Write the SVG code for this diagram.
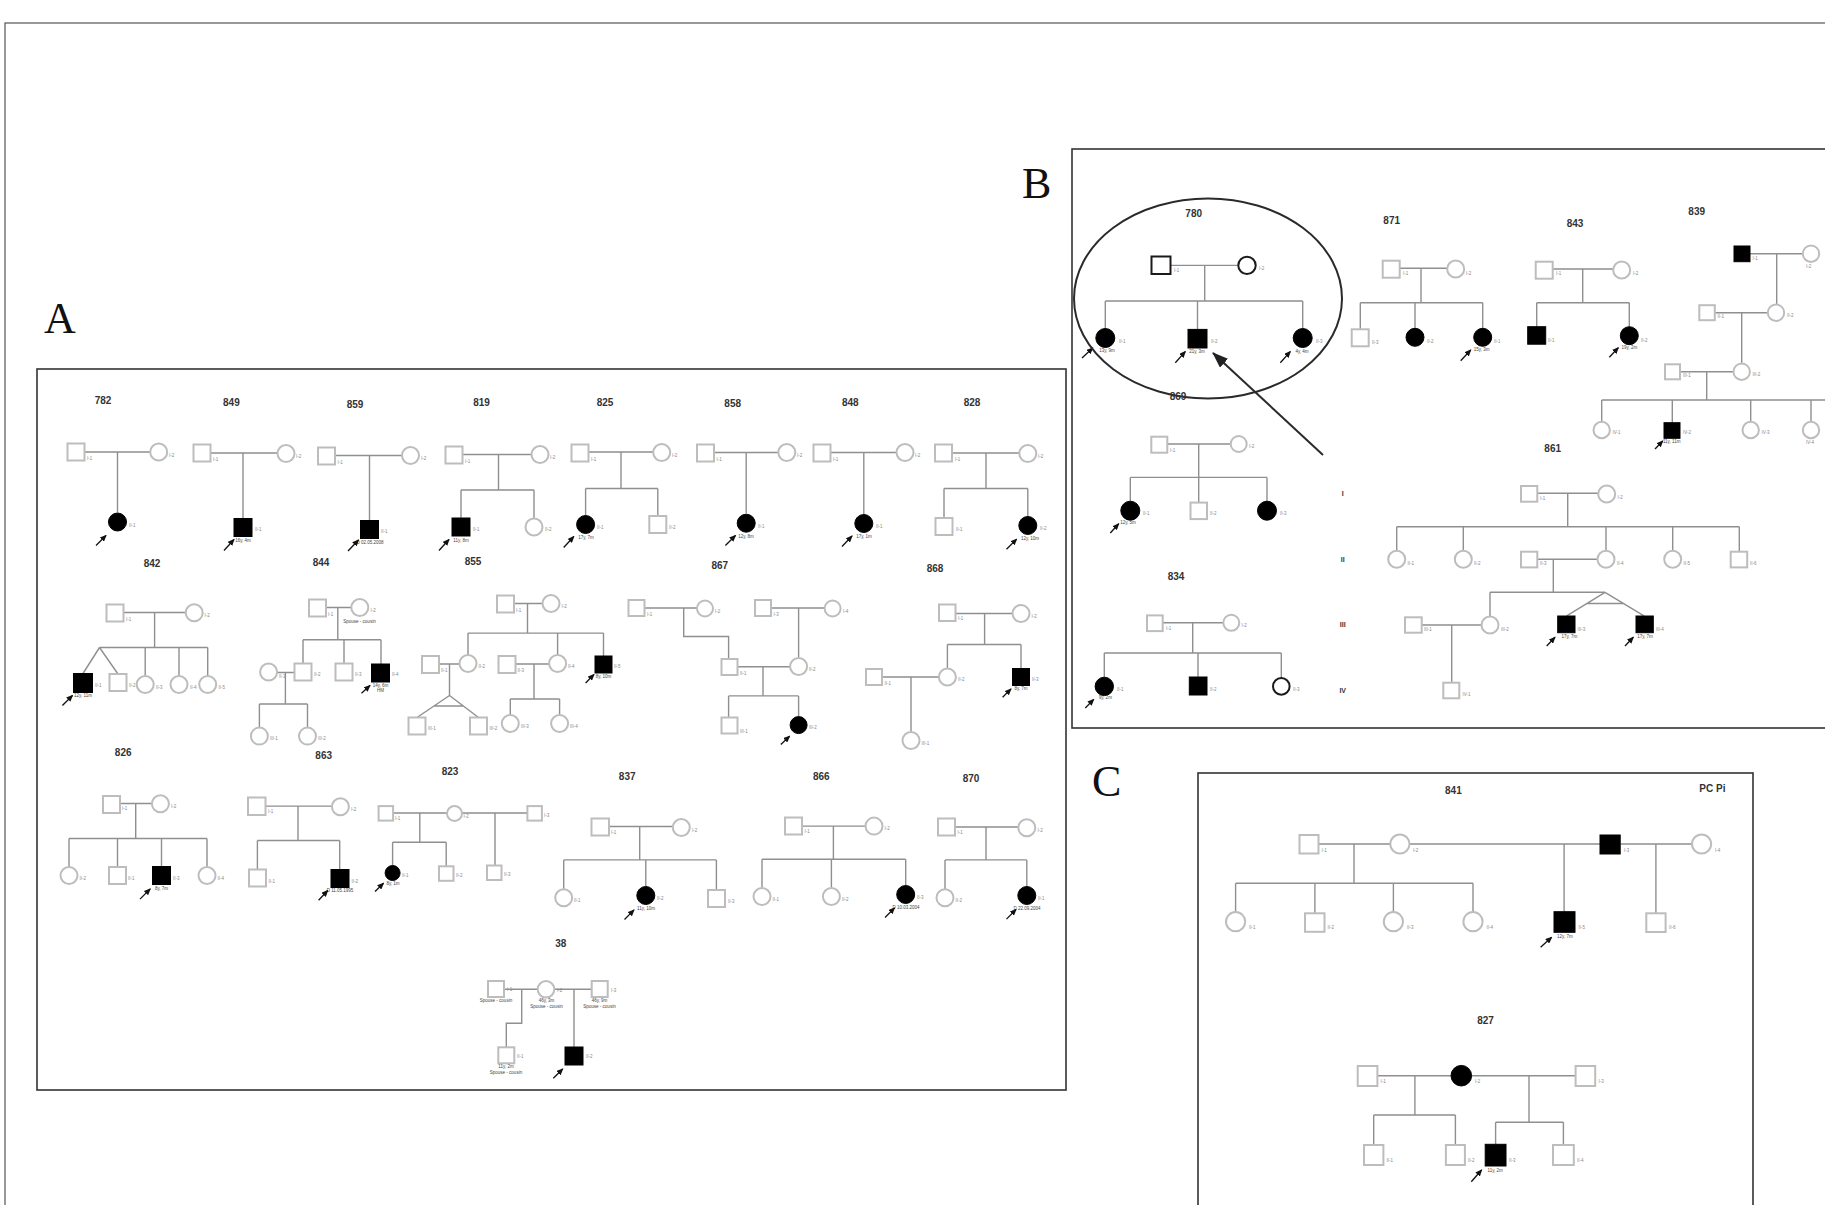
<svg xmlns="http://www.w3.org/2000/svg" width="1825" height="1205" viewBox="0 0 1825 1205">
<defs>
<style>
.u{fill:#fff;stroke:#bdbdbd;stroke-width:2}
.a{fill:#000;stroke:#000;stroke-width:1}
.k{fill:#fff;stroke:#1a1a1a;stroke-width:2}
.ln{fill:none;stroke:#8f8f8f;stroke-width:1.4}
.pb{stroke:#111;stroke-width:1.3;marker-end:url(#ah)}
.fl{font-family:"Liberation Sans",Arial,sans-serif;font-weight:bold;font-size:10px;fill:#333;text-anchor:middle}
.id{font-family:"Liberation Sans",Arial,sans-serif;font-size:4.5px;fill:#888}
.sb{font-family:"Liberation Sans",Arial,sans-serif;font-size:4.5px;fill:#444;text-anchor:middle}
.pl{font-family:"Liberation Serif","Times New Roman",serif;font-size:44px;fill:#111}
.fr{fill:none;stroke:#333;stroke-width:1.6}
.gen{font-family:"Liberation Sans",Arial,sans-serif;font-weight:bold;font-size:7px;fill:#333;text-anchor:middle}
</style>
<marker id="ah" markerUnits="userSpaceOnUse" markerWidth="7" markerHeight="6" refX="6" refY="3" orient="auto"><path d="M0,0 L7,3 L0,6 z" fill="#111"/></marker>
<marker id="bigah" markerUnits="userSpaceOnUse" markerWidth="16" markerHeight="12" refX="15" refY="6" orient="auto"><path d="M0,0 L16,6 L0,12 z" fill="#222"/></marker>
</defs>
<rect width="1825" height="1205" fill="#fff"/>
<rect x="5" y="23" width="1830" height="1200" fill="none" stroke="#555" stroke-width="1.2"/>

<!-- panel frames and letters -->
<rect class="fr" x="37" y="369" width="1029" height="721"/>
<rect class="fr" x="1072" y="149" width="770" height="579"/>
<rect class="fr" x="1198" y="773" width="555" height="450"/>
<text class="pl" x="44" y="333">A</text>
<text class="pl" x="1022" y="198">B</text>
<text class="pl" x="1092" y="796">C</text>

<!-- ===== Panel A ===== -->
<g id="panelA" transform="translate(0,-1.5)">
<g id="fam782">
<text class="fl" x="103" y="405">782</text>
<g class="connectors"><path class="ln" d="M84.5 453.5H150M117.5 453.5V514"/></g>
<g id="f782-I1"><rect class="u" x="67.5" y="445" width="17" height="17"/><text class="id" x="87" y="461">I-1</text></g>
<g id="f782-I2"><circle class="u" cx="158.7" cy="453.5" r="8.5"/><text class="id" x="169" y="458">I-2</text></g>
<g id="f782-II1"><circle class="a" cx="117.5" cy="523.5" r="9"/><text class="id" x="129" y="528">II-1</text><line class="pb" x1="96" y1="547" x2="106" y2="537"/></g>
</g>

<g id="fam849">
<text class="fl" x="231.4" y="407">849</text>
<g class="connectors"><path class="ln" d="M210.5 454.5H277.5M243 454.5V520"/></g>
<g id="f849-I1"><rect class="u" x="193.5" y="446" width="17" height="17"/><text class="id" x="213" y="462">I-1</text></g>
<g id="f849-I2"><circle class="u" cx="286" cy="455" r="8.5"/><text class="id" x="296" y="459">I-2</text></g>
<g id="f849-II1"><rect class="a" x="234" y="520" width="18" height="18"/><text class="id" x="255" y="532">II-1</text><text class="sb" x="243" y="543.5">16y, 4m</text><line class="pb" x1="224" y1="552" x2="234" y2="541"/></g>
</g>

<g id="fam859">
<text class="fl" x="355" y="409">859</text>
<g class="connectors"><path class="ln" d="M335 457H402M369.5 457V522"/></g>
<g id="f859-I1"><rect class="u" x="318" y="449" width="17" height="17"/><text class="id" x="337.5" y="465">I-1</text></g>
<g id="f859-I2"><circle class="u" cx="410.5" cy="457" r="8.5"/><text class="id" x="421" y="461">I-2</text></g>
<g id="f859-II1"><rect class="a" x="360.5" y="522" width="18" height="18"/><text class="id" x="381" y="534">II-1</text><text class="sb" x="370" y="545">D 02.05.2008</text><line class="pb" x1="348" y1="552.5" x2="358.5" y2="541.5"/></g>
</g>

<g id="fam819">
<text class="fl" x="481.6" y="407">819</text>
<g class="connectors"><path class="ln" d="M462.5 456H531.5M498.5 456V491.5M461 491.5H534M461 491.5V519.5M534 491.5V520"/></g>
<g id="f819-I1"><rect class="u" x="445.5" y="448" width="17" height="17"/><text class="id" x="465" y="464">I-1</text></g>
<g id="f819-I2"><circle class="u" cx="540" cy="456" r="8.5"/><text class="id" x="550" y="460">I-2</text></g>
<g id="f819-II1"><rect class="a" x="452" y="519.5" width="18" height="18"/><text class="id" x="473" y="532">II-1</text><text class="sb" x="461" y="543">11y, 8m</text><line class="pb" x1="439" y1="552" x2="449" y2="541"/></g>
<g id="f819-II2"><circle class="u" cx="534" cy="528.5" r="8.5"/><text class="id" x="545" y="532.5">II-2</text></g>
</g>

<g id="fam825">
<text class="fl" x="605" y="407">825</text>
<g class="connectors"><path class="ln" d="M588.5 453.5H653M621 453.5V490M585.6 490H657.8M585.6 490V517M657.8 490V517.5"/></g>
<g id="f825-I1"><rect class="u" x="571.5" y="446" width="17" height="17"/><text class="id" x="591" y="462">I-1</text></g>
<g id="f825-I2"><circle class="u" cx="661.7" cy="454" r="8.5"/><text class="id" x="672" y="458">I-2</text></g>
<g id="f825-II1"><circle class="a" cx="585.6" cy="526" r="9"/><text class="id" x="597" y="530">II-1</text><text class="sb" x="586" y="540">17y, 7m</text><line class="pb" x1="563.7" y1="549" x2="573.8" y2="538"/></g>
<g id="f825-II2"><rect class="u" x="649.3" y="517.5" width="17" height="17"/><text class="id" x="669" y="530">II-2</text></g>
</g>

<g id="fam858">
<text class="fl" x="732.7" y="408">858</text>
<g class="connectors"><path class="ln" d="M714 454H778.3M746.2 454V515"/></g>
<g id="f858-I1"><rect class="u" x="697" y="446" width="17" height="17"/><text class="id" x="716.5" y="462">I-1</text></g>
<g id="f858-I2"><circle class="u" cx="786.8" cy="454" r="8.5"/><text class="id" x="797" y="458">I-2</text></g>
<g id="f858-II1"><circle class="a" cx="746.2" cy="524.7" r="9"/><text class="id" x="758" y="529">II-1</text><text class="sb" x="746" y="539">12y, 8m</text><line class="pb" x1="725.4" y1="547" x2="735.5" y2="537"/></g>
</g>

<g id="fam848">
<text class="fl" x="850.3" y="407">848</text>
<g class="connectors"><path class="ln" d="M830.5 454H896.5M863.8 454V516"/></g>
<g id="f848-I1"><rect class="u" x="813.5" y="446" width="17" height="17"/><text class="id" x="833" y="462">I-1</text></g>
<g id="f848-I2"><circle class="u" cx="905" cy="454" r="8.5"/><text class="id" x="915" y="458">I-2</text></g>
<g id="f848-II1"><circle class="a" cx="863.8" cy="525" r="9"/><text class="id" x="876" y="529">II-1</text><text class="sb" x="864" y="539">17y, 1m</text><line class="pb" x1="842" y1="548" x2="852" y2="537.5"/></g>
</g>

<g id="fam828">
<text class="fl" x="972" y="407">828</text>
<g class="connectors"><path class="ln" d="M952 454.5H1019.3M986 454.5V490M944 490H1027.8M944 490V519.5M1027.8 490V518"/></g>
<g id="f828-I1"><rect class="u" x="935" y="446" width="17" height="17"/><text class="id" x="955" y="462">I-1</text></g>
<g id="f828-I2"><circle class="u" cx="1027.8" cy="455" r="8.5"/><text class="id" x="1038" y="459">I-2</text></g>
<g id="f828-II1"><rect class="u" x="935.5" y="519.5" width="17" height="17"/><text class="id" x="956" y="532">II-1</text></g>
<g id="f828-II2"><circle class="a" cx="1027.8" cy="527" r="9"/><text class="id" x="1040" y="531">II-2</text><text class="sb" x="1030" y="541.5">12y, 10m</text><line class="pb" x1="1006.5" y1="550.7" x2="1016.6" y2="540.6"/></g>
</g>

<g id="fam842">
<text class="fl" x="152" y="568">842</text>
<g class="connectors"><path class="ln" d="M123.5 614H185.7M154.6 614V649M99.5 649H207.7M99.5 649L83 675M99.5 649L118 675.5M145.2 649V677.5M179 649V677.5M207.7 649V677.5"/></g>
<g id="f842-I1"><rect class="u" x="106.5" y="606" width="17" height="17"/><text class="id" x="126" y="622">I-1</text></g>
<g id="f842-I2"><circle class="u" cx="194.2" cy="614.2" r="8.5"/><text class="id" x="204.5" y="618">I-2</text></g>
<g id="f842-II1"><rect class="a" x="73.5" y="675" width="19" height="19"/><text class="id" x="95" y="688">II-1</text><text class="sb" x="83" y="698">12y, 11m</text><line class="pb" x1="62.4" y1="707" x2="72.5" y2="697"/></g>
<g id="f842-II2"><rect class="u" x="109.5" y="675.5" width="17" height="17"/><text class="id" x="129" y="688">II-2</text></g>
<g id="f842-II3"><circle class="u" cx="145.2" cy="686" r="8.5"/><text class="id" x="156" y="690">II-3</text></g>
<g id="f842-II4"><circle class="u" cx="179" cy="686" r="8.5"/><text class="id" x="190" y="690">II-4</text></g>
<g id="f842-II5"><circle class="u" cx="207.7" cy="686" r="8.5"/><text class="id" x="218.5" y="690">II-5</text></g>
</g>

<g id="fam844">
<text class="fl" x="321" y="567">844</text>
<g class="connectors"><path class="ln" d="M326 609H351.3M337.8 609V641.3M303 641.3H381M303 641.3V665M344 641.3V665M381 641.3V665.5M277.1 674H295.5M285.4 674V705.5M259.4 705.5H307.5M259.4 705.5V729M307.5 705.5V729"/></g>
<g id="f844-I1"><rect class="u" x="309" y="601" width="17" height="17"/><text class="id" x="328" y="617">I-1</text></g>
<g id="f844-I2"><circle class="u" cx="359.8" cy="609" r="8.5"/><text class="id" x="370.5" y="613">I-2</text><text class="sb" x="359.5" y="624">Spouse - cousin</text></g>
<g id="f844-II1"><circle class="u" cx="268.6" cy="673.5" r="8.5"/><text class="id" x="279" y="679">II-1</text></g>
<g id="f844-II2"><rect class="u" x="294.5" y="665" width="17" height="17"/><text class="id" x="314" y="677.5">II-2</text></g>
<g id="f844-II3"><rect class="u" x="335.5" y="665" width="17" height="17"/><text class="id" x="355" y="677.5">II-3</text></g>
<g id="f844-II4"><rect class="a" x="371.5" y="665.5" width="18" height="18"/><text class="id" x="392" y="677.5">II-4</text><text class="sb" x="380.5" y="688.5">14y, 6m</text><text class="sb" x="380.5" y="693.5">HM</text><line class="pb" x1="361.5" y1="694.7" x2="370" y2="687"/></g>
<g id="f844-III1"><circle class="u" cx="259.4" cy="737.6" r="8.5"/><text class="id" x="270" y="741.5">III-1</text></g>
<g id="f844-III2"><circle class="u" cx="307.5" cy="737.6" r="8.5"/><text class="id" x="318" y="741.5">III-2</text></g>
</g>

<g id="fam855">
<text class="fl" x="473" y="566">855</text>
<g class="connectors"><path class="ln" d="M514 605H542.5M527.5 605V634.6M468 634.6H603.5M468 634.6V656.5M557.6 634.6V656.5M603.5 634.6V657.5M439 665.5H459.5M449.5 665.5V697M449.5 697L417 719M449.5 697L478.5 719M434 707.5H463.3M515.5 665.5H549M534 665.5V700.5M510.3 700.5H559.6M510.3 700.5V716.5M559.6 700.5V716.5"/></g>
<g id="f855-I1"><rect class="u" x="497" y="597" width="17" height="17"/><text class="id" x="516" y="613">I-1</text></g>
<g id="f855-I2"><circle class="u" cx="551" cy="605" r="8.5"/><text class="id" x="561.5" y="609">I-2</text></g>
<g id="f855-II1"><rect class="u" x="422" y="657.5" width="17" height="17"/><text class="id" x="441" y="673">II-1</text></g>
<g id="f855-II2"><circle class="u" cx="468" cy="665" r="8.5"/><text class="id" x="478.5" y="669">II-2</text></g>
<g id="f855-II3"><rect class="u" x="498.5" y="657.5" width="17" height="17"/><text class="id" x="517.5" y="673">II-3</text></g>
<g id="f855-II4"><circle class="u" cx="557.6" cy="665" r="8.5"/><text class="id" x="568" y="669">II-4</text></g>
<g id="f855-II5"><rect class="a" x="595" y="657.5" width="17" height="17"/><text class="id" x="614" y="669">II-5</text><text class="sb" x="603.5" y="679">8y, 10m</text><line class="pb" x1="585.6" y1="684.5" x2="594" y2="676"/></g>
<g id="f855-III1"><rect class="u" x="408.5" y="719" width="17" height="17"/><text class="id" x="428" y="731">III-1</text></g>
<g id="f855-III2"><rect class="u" x="470" y="719" width="17" height="17"/><text class="id" x="489.5" y="731">III-2</text></g>
<g id="f855-III3"><circle class="u" cx="510.3" cy="725" r="8.5"/><text class="id" x="521" y="729">III-3</text></g>
<g id="f855-III4"><circle class="u" cx="559.6" cy="725" r="8.5"/><text class="id" x="570" y="729">III-4</text></g>
</g>

<g id="fam867">
<text class="fl" x="719.8" y="570">867</text>
<g class="connectors"><path class="ln" d="M644.5 609.5H697M683.7 609.5V638H728.6V660.5M771 609.5H824.6M798.6 609.5V659.5M737.5 668.3H790M763 668.3V697.4M728.6 697.4H798.6M728.6 697.4V719M798.6 697.4V718"/></g>
<g id="f867-I1"><rect class="u" x="628.5" y="601.5" width="16" height="16"/><text class="id" x="647" y="617">I-1</text></g>
<g id="f867-I2"><circle class="u" cx="705" cy="610" r="8"/><text class="id" x="715" y="614">I-2</text></g>
<g id="f867-I3"><rect class="u" x="755" y="601.5" width="16" height="16"/><text class="id" x="773.5" y="617">I-3</text></g>
<g id="f867-I4"><circle class="u" cx="832.6" cy="610" r="8"/><text class="id" x="843" y="614">I-4</text></g>
<g id="f867-II1"><rect class="u" x="721.5" y="660.5" width="16" height="16"/><text class="id" x="740" y="676">II-1</text></g>
<g id="f867-II2"><circle class="u" cx="798.6" cy="668" r="8.5"/><text class="id" x="809" y="672">II-2</text></g>
<g id="f867-III1"><rect class="u" x="721.5" y="719" width="16" height="16"/><text class="id" x="740" y="734">III-1</text></g>
<g id="f867-III2"><circle class="a" cx="798.6" cy="726.6" r="8.5"/><text class="id" x="809" y="730.5">III-2</text><line class="pb" x1="780.8" y1="746" x2="789.6" y2="737.7"/></g>
</g>

<g id="fam868">
<text class="fl" x="935" y="573">868</text>
<g class="connectors"><path class="ln" d="M955.5 615H1012.5M984.6 615V646M947.4 646H1021M947.4 646V670M1021 646V670M882 678.5H939M911 678.5V733.5"/></g>
<g id="f868-I1"><rect class="u" x="939" y="606" width="16.5" height="16.5"/><text class="id" x="958" y="621">I-1</text></g>
<g id="f868-I2"><circle class="u" cx="1021" cy="615" r="8.5"/><text class="id" x="1031.5" y="619">I-2</text></g>
<g id="f868-II1"><rect class="u" x="866" y="670.5" width="16" height="16"/><text class="id" x="884.5" y="686">II-1</text></g>
<g id="f868-II2"><circle class="u" cx="947.4" cy="678.5" r="8.5"/><text class="id" x="958" y="682.5">II-2</text></g>
<g id="f868-II3"><rect class="a" x="1012.5" y="670" width="17" height="17"/><text class="id" x="1032" y="682">II-3</text><text class="sb" x="1021" y="691.5">8y, 7m</text><line class="pb" x1="1002.6" y1="698.8" x2="1011" y2="690.4"/></g>
<g id="f868-III1"><circle class="u" cx="911" cy="742" r="8.5"/><text class="id" x="921.5" y="746">III-1</text></g>
</g>

<g id="fam826">
<text class="fl" x="123.2" y="757">826</text>
<g class="connectors"><path class="ln" d="M120 805H152M135.7 805V840M69 840H207M69 840V868.5M117.5 840V868.5M161.5 840V868M207 840V868.5"/></g>
<g id="f826-I1"><rect class="u" x="103" y="797.5" width="17" height="17"/><text class="id" x="122" y="811">I-1</text></g>
<g id="f826-I2"><circle class="u" cx="160.4" cy="805.3" r="8.5"/><text class="id" x="171" y="809.5">I-2</text></g>
<g id="f826-II2"><circle class="u" cx="69" cy="877" r="8.5"/><text class="id" x="79.5" y="881">II-2</text></g>
<g id="f826-II1"><rect class="u" x="109" y="868.5" width="17" height="17"/><text class="id" x="128" y="881">II-1</text></g>
<g id="f826-II3"><rect class="a" x="152.5" y="868" width="18" height="18"/><text class="id" x="173" y="881">II-3</text><text class="sb" x="161.5" y="891">8y, 7m</text><line class="pb" x1="140" y1="900.6" x2="150.2" y2="890.4"/></g>
<g id="f826-II4"><circle class="u" cx="207" cy="877" r="8.5"/><text class="id" x="217.5" y="881">II-4</text></g>
</g>

<g id="fam863">
<text class="fl" x="323.7" y="760.5">863</text>
<g class="connectors"><path class="ln" d="M265.5 807.6H332M298 807.6V842M257.4 842H339.7M257.4 842V871M339.7 842V871"/></g>
<g id="f863-I1"><rect class="u" x="248" y="799" width="17.5" height="17.5"/><text class="id" x="268" y="814">I-1</text></g>
<g id="f863-I2"><circle class="u" cx="340.4" cy="808.3" r="8.5"/><text class="id" x="351" y="812">I-2</text></g>
<g id="f863-II1"><rect class="u" x="249" y="871" width="17" height="17"/><text class="id" x="268.5" y="884">II-1</text></g>
<g id="f863-II2"><rect class="a" x="331" y="871" width="18" height="18"/><text class="id" x="351.5" y="884">II-2</text><text class="sb" x="340" y="893">D 11.05.1995</text><line class="pb" x1="318.6" y1="901.7" x2="327.7" y2="892"/></g>
</g>

<g id="fam823">
<text class="fl" x="450" y="776">823</text>
<g class="connectors"><path class="ln" d="M393 814.5H447M462 814.5H527.4M419.8 814.5V843.8M392.6 843.8H446.2M392.6 843.8V867M446.2 843.8V867.8M495 814.5V867"/></g>
<g id="f823-I1"><rect class="u" x="378.6" y="807.6" width="14.5" height="14.5"/><text class="id" x="395" y="821">I-1</text></g>
<g id="f823-I2"><circle class="u" cx="454.5" cy="815" r="7.5"/><text class="id" x="463.5" y="819">I-2</text></g>
<g id="f823-I3"><rect class="u" x="527.4" y="807.6" width="14.5" height="14.5"/><text class="id" x="544" y="818">I-3</text></g>
<g id="f823-II1"><circle class="a" cx="392.6" cy="874.5" r="7.5"/><text class="id" x="402" y="878">II-1</text><text class="sb" x="393" y="886">8y, 1m</text><line class="pb" x1="375" y1="893" x2="383.5" y2="884.7"/></g>
<g id="f823-II2"><rect class="u" x="439" y="867.8" width="14.5" height="14.5"/><text class="id" x="456" y="878">II-2</text></g>
<g id="f823-II3"><rect class="u" x="487" y="867" width="14.5" height="14.5"/><text class="id" x="504" y="877.5">II-3</text></g>
</g>

<g id="fam837">
<text class="fl" x="627.2" y="781.5">837</text>
<g class="connectors"><path class="ln" d="M609 828H672.8M639.7 828V861.4M563.7 861.4H716.4M563.7 861.4V890.5M645.8 861.4V888M716.4 861.4V891.5"/></g>
<g id="f837-I1"><rect class="u" x="591.5" y="820" width="17.5" height="17"/><text class="id" x="611" y="835">I-1</text></g>
<g id="f837-I2"><circle class="u" cx="681.3" cy="829" r="8.5"/><text class="id" x="692" y="833">I-2</text></g>
<g id="f837-II1"><circle class="u" cx="563.7" cy="899.3" r="8.5"/><text class="id" x="574" y="903">II-1</text></g>
<g id="f837-II2"><circle class="a" cx="645.8" cy="897" r="9"/><text class="id" x="657" y="901">II-2</text><text class="sb" x="646" y="911">11y, 10m</text><line class="pb" x1="624.5" y1="921" x2="634" y2="911.4"/></g>
<g id="f837-II3"><rect class="u" x="708" y="891.5" width="17" height="17"/><text class="id" x="728" y="904">II-3</text></g>
</g>

<g id="fam866">
<text class="fl" x="821.3" y="781.5">866</text>
<g class="connectors"><path class="ln" d="M802 827.6H865.5M833.4 827.6V860.7M762 860.7H905.7M762 860.7V889.5M831.4 860.7V889.5M905.7 860.7V887"/></g>
<g id="f866-I1"><rect class="u" x="785" y="819" width="17" height="17"/><text class="id" x="804.5" y="834">I-1</text></g>
<g id="f866-I2"><circle class="u" cx="874" cy="827.6" r="8.5"/><text class="id" x="884.5" y="831.5">I-2</text></g>
<g id="f866-II1"><circle class="u" cx="762" cy="898" r="8.5"/><text class="id" x="772.5" y="902">II-1</text></g>
<g id="f866-II2"><circle class="u" cx="831.4" cy="898" r="8.5"/><text class="id" x="842" y="902">II-2</text></g>
<g id="f866-II3"><circle class="a" cx="905.7" cy="896" r="9"/><text class="id" x="917" y="900">II-3</text><text class="sb" x="906" y="910">D 10.03.2004</text><line class="pb" x1="885" y1="919" x2="894.5" y2="909.5"/></g>
</g>

<g id="fam870">
<text class="fl" x="971" y="783">870</text>
<g class="connectors"><path class="ln" d="M955 828.5H1018.3M986 828.5V861.4M945 861.4H1026.8M945 861.4V890.8M1026.8 861.4V888"/></g>
<g id="f870-I1"><rect class="u" x="938" y="820" width="17" height="17"/><text class="id" x="957.5" y="835">I-1</text></g>
<g id="f870-I2"><circle class="u" cx="1026.8" cy="829.3" r="8.5"/><text class="id" x="1037.5" y="833">I-2</text></g>
<g id="f870-II2"><circle class="u" cx="945" cy="899.3" r="8.5"/><text class="id" x="955.5" y="903">II-2</text></g>
<g id="f870-II1"><circle class="a" cx="1026.8" cy="897" r="9"/><text class="id" x="1038" y="901">II-1</text><text class="sb" x="1027" y="911">D 22.09.2004</text><line class="pb" x1="1006.5" y1="920.6" x2="1016" y2="911"/></g>
</g>
</g>

<g id="fam38">
<text class="fl" x="560.7" y="946.5">38</text>
<g class="connectors"><path class="ln" d="M504 989.3H537.7M554.3 989.3H591.7M521.7 989.3V1023.3H506.3V1047.3M574 989.3V1047"/></g>
<g id="f38-I1"><rect class="u" x="488" y="981" width="16" height="16"/><text class="id" x="507" y="991">I-1</text><text class="sb" x="496" y="1002">Spouse - cousin</text></g>
<g id="f38-I2"><circle class="u" cx="546" cy="989.3" r="8.3"/><text class="id" x="557" y="992">I-2</text><text class="sb" x="546.5" y="1002">46y, 3m</text><text class="sb" x="546.5" y="1008">Spouse - cousin</text></g>
<g id="f38-I3"><rect class="u" x="591.7" y="981" width="16" height="16"/><text class="id" x="611" y="992">I-3</text><text class="sb" x="599.5" y="1002">46y, 9m</text><text class="sb" x="599.5" y="1008">Spouse - cousin</text></g>
<g id="f38-II1"><rect class="u" x="498.3" y="1047.3" width="16" height="16"/><text class="id" x="517" y="1058">II-1</text><text class="sb" x="506" y="1068">11y, 2m</text><text class="sb" x="506" y="1074">Spouse - cousin</text></g>
<g id="f38-II2"><rect class="a" x="565" y="1047" width="18" height="18"/><text class="id" x="586" y="1058">II-2</text><line class="pb" x1="553.3" y1="1078.3" x2="562.7" y2="1069"/></g>
</g>

<!-- ===== Panel B ===== -->
<g id="fam780">
<text class="fl" x="1193.7" y="216.5">780</text>
<g class="connectors"><path class="ln" d="M1170.5 265.4H1238.3M1204.7 265.4V301M1105.3 301H1302.7M1105.3 301V328.5M1197.5 301V329.4M1302.7 301V328.5"/></g>
<g id="f780-I1"><rect class="k" x="1151.5" y="256.5" width="19" height="17.5"/><text class="id" x="1174" y="272">I-1</text></g>
<g id="f780-I2"><circle class="k" cx="1247" cy="265.4" r="8.7"/><text class="id" x="1259" y="270">I-2</text></g>
<g id="f780-II1"><circle class="a" cx="1105.3" cy="338" r="9.5"/><text class="id" x="1119" y="343">II-1</text><text class="sb" x="1107" y="352">13y, 9m</text><line class="pb" x1="1082" y1="358" x2="1092.7" y2="348"/></g>
<g id="f780-II2"><rect class="a" x="1188" y="329.4" width="19" height="18.6"/><text class="id" x="1211" y="343">II-2</text><text class="sb" x="1197" y="352.5">21y, 3m</text><line class="pb" x1="1175.3" y1="362.7" x2="1185.3" y2="351.6"/></g>
<g id="f780-II3"><circle class="a" cx="1302.7" cy="338" r="9.5"/><text class="id" x="1316" y="343">II-3</text><text class="sb" x="1302" y="352.5">4y, 4m</text><line class="pb" x1="1280.3" y1="362.7" x2="1290.3" y2="351.6"/></g>
</g>
<ellipse cx="1208" cy="298.5" rx="134" ry="100" fill="none" stroke="#2a2a2a" stroke-width="2"/>
<line x1="1323" y1="455" x2="1213" y2="353" stroke="#2a2a2a" stroke-width="2" marker-end="url(#bigah)"/>

<g id="fam869">
<text class="fl" x="1178" y="400">869</text>
<g class="connectors"><path class="ln" d="M1167.3 444H1230.7M1198.7 444V477.4M1130.3 477.4H1267M1130.3 477.4V501M1198.7 477.4V502.6M1267 477.4V501"/></g>
<g id="f869-I1"><rect class="u" x="1151.3" y="436.7" width="16" height="16"/><text class="id" x="1170" y="452">I-1</text></g>
<g id="f869-I2"><circle class="u" cx="1238.7" cy="444" r="8"/><text class="id" x="1249" y="448">I-2</text></g>
<g id="f869-II1"><circle class="a" cx="1130.3" cy="510.7" r="9.5"/><text class="id" x="1143" y="515">II-1</text><text class="sb" x="1128" y="524">12y, 5m</text><line class="pb" x1="1110.3" y1="533" x2="1118.7" y2="523.7"/></g>
<g id="f869-II2"><rect class="u" x="1190.5" y="502.6" width="16.5" height="16.5"/><text class="id" x="1210" y="515">II-2</text></g>
<g id="f869-II3"><circle class="a" cx="1267" cy="510.7" r="9.5"/><text class="id" x="1280" y="515">II-3</text></g>
</g>

<g id="fam834">
<text class="fl" x="1176" y="580">834</text>
<g class="connectors"><path class="ln" d="M1162.7 622.8H1223.3M1192.7 622.8V653M1104.3 653H1281.3M1104.3 653V677M1198 653V677M1281.3 653V678"/></g>
<g id="f834-I1"><rect class="u" x="1147" y="615.4" width="15.7" height="15.7"/><text class="id" x="1166" y="630">I-1</text></g>
<g id="f834-I2"><circle class="u" cx="1231.3" cy="622.8" r="8"/><text class="id" x="1241.5" y="627">I-2</text></g>
<g id="f834-II1"><circle class="a" cx="1104.3" cy="686.4" r="9.2"/><text class="id" x="1117" y="690.5">II-1</text><text class="sb" x="1105.3" y="699.4">9y, 2m</text><line class="pb" x1="1085.3" y1="708" x2="1093.7" y2="699.4"/></g>
<g id="f834-II2"><rect class="a" x="1189.3" y="677" width="17.7" height="18"/><text class="id" x="1210" y="690.5">II-2</text></g>
<g id="f834-II3"><circle class="k" cx="1281.3" cy="686.4" r="8.3"/><text class="id" x="1293" y="690.5">II-3</text></g>
</g>

<g id="generations">
<text class="gen" x="1342.7" y="496">I</text>
<text class="gen" x="1342.7" y="561.5">II</text>
<text class="gen" x="1342.7" y="627">III</text>
<text class="gen" x="1342.7" y="692.5">IV</text>
</g>

<g id="fam871">
<text class="fl" x="1391.7" y="224">871</text>
<g class="connectors"><path class="ln" d="M1400 268.3H1447.2M1421 268.3V302.7M1360.3 302.7H1482.7M1360.3 302.7V329.3M1415 302.7V328M1482.7 302.7V328"/></g>
<g id="f871-I1"><rect class="u" x="1382.7" y="260.7" width="17" height="17"/><text class="id" x="1403" y="275">I-1</text></g>
<g id="f871-I2"><circle class="u" cx="1455.7" cy="269" r="8.5"/><text class="id" x="1466" y="275">I-2</text></g>
<g id="f871-II3"><rect class="u" x="1351.7" y="329.3" width="17" height="17"/><text class="id" x="1372" y="344">II-3</text></g>
<g id="f871-II2"><circle class="a" cx="1415" cy="337.3" r="9"/><text class="id" x="1427" y="343">II-2</text></g>
<g id="f871-II1"><circle class="a" cx="1482.7" cy="337.3" r="9"/><text class="id" x="1494" y="343">II-1</text><text class="sb" x="1481.7" y="351">15y, 3m</text><line class="pb" x1="1460.7" y1="360.7" x2="1470.7" y2="350"/></g>
</g>

<g id="fam843">
<text class="fl" x="1575" y="226.5">843</text>
<g class="connectors"><path class="ln" d="M1552.7 269H1613.2M1582.7 269V302.7M1536.7 302.7H1629.3M1536.7 302.7V326.7M1629.3 302.7V326.5"/></g>
<g id="f843-I1"><rect class="u" x="1535.7" y="261.7" width="17" height="17"/><text class="id" x="1556" y="275">I-1</text></g>
<g id="f843-I2"><circle class="u" cx="1621.7" cy="270" r="8.5"/><text class="id" x="1633" y="275">I-2</text></g>
<g id="f843-II1"><rect class="a" x="1527.7" y="326.7" width="18" height="17.5"/><text class="id" x="1548" y="342">II-1</text></g>
<g id="f843-II2"><circle class="a" cx="1629.3" cy="335.7" r="9"/><text class="id" x="1641" y="342">II-2</text><text class="sb" x="1629.3" y="349">19y, 2m</text><line class="pb" x1="1609.3" y1="357.3" x2="1618.3" y2="347.7"/></g>
</g>

<g id="fam839">
<text class="fl" x="1696.7" y="215">839</text>
<g class="connectors"><path class="ln" d="M1750 253.7H1803M1776.7 253.7V304.5M1715 312.7H1767.8M1741.7 312.7V363.5M1680 371.7H1733.5M1706.7 371.7V400M1601.7 400H1835M1601.7 400V421.5M1672.3 400V422.7M1750.7 400V421.5M1811 400V421.5"/></g>
<g id="f839-I1"><rect class="a" x="1734" y="246" width="16" height="15.7"/><text class="id" x="1752.5" y="260">I-1</text></g>
<g id="f839-I2"><circle class="u" cx="1811" cy="253.7" r="8.2"/><text class="id" x="1806" y="268">I-2</text></g>
<g id="f839-II1"><rect class="u" x="1699.3" y="305.2" width="15.5" height="15"/><text class="id" x="1717.5" y="318">II-1</text></g>
<g id="f839-II2"><circle class="u" cx="1776" cy="312.7" r="8.2"/><text class="id" x="1787" y="317">II-2</text></g>
<g id="f839-III1"><rect class="u" x="1665" y="364.3" width="15" height="15"/><text class="id" x="1683" y="377">III-1</text></g>
<g id="f839-III2"><circle class="u" cx="1741.7" cy="371.7" r="8.2"/><text class="id" x="1752.5" y="376">III-2</text></g>
<g id="f839-IV1"><circle class="u" cx="1601.7" cy="430" r="8.2"/><text class="id" x="1612.5" y="434">IV-1</text></g>
<g id="f839-IV2"><rect class="a" x="1664" y="422.7" width="16" height="15.6"/><text class="id" x="1683" y="434">IV-2</text><text class="sb" x="1671.7" y="442.5">11y, 11m</text><line class="pb" x1="1655" y1="449" x2="1662.7" y2="441"/></g>
<g id="f839-IV3"><circle class="u" cx="1750.7" cy="430" r="8.2"/><text class="id" x="1761.5" y="434">IV-3</text></g>
<g id="f839-IV4"><circle class="u" cx="1811" cy="430" r="8.2"/><text class="id" x="1806" y="444">IV-4</text></g>
</g>

<g id="fam861">
<text class="fl" x="1552.7" y="451.5">861</text>
<g class="connectors"><path class="ln" d="M1537.3 493.3H1598.2M1567.7 493.3V526.7M1396.7 526.7H1739.3M1396.7 526.7V550.8M1463.3 526.7V550.8M1606 526.7V550.8M1672.7 526.7V550.8M1739.3 526.7V551.7M1537.3 559.3H1597.5M1553.3 559.3V592.3M1490 592.3H1605M1490 592.3V616.5M1605 592.3L1566.7 615.8M1605 592.3L1644 615.8M1586.7 603.5H1624.3M1421.7 625H1481.5M1451.7 625V682.7"/></g>
<g id="f861-I1"><rect class="u" x="1521" y="486" width="16.3" height="15.7"/><text class="id" x="1540" y="500">I-1</text></g>
<g id="f861-I2"><circle class="u" cx="1606.7" cy="494" r="8.5"/><text class="id" x="1617.5" y="499">I-2</text></g>
<g id="f861-II1"><circle class="u" cx="1396.7" cy="559.3" r="8.5"/><text class="id" x="1407.5" y="565">II-1</text></g>
<g id="f861-II2"><circle class="u" cx="1463.3" cy="559.3" r="8.5"/><text class="id" x="1474" y="565">II-2</text></g>
<g id="f861-II3"><rect class="u" x="1521" y="551.7" width="16.3" height="15.7"/><text class="id" x="1540" y="565">II-3</text></g>
<g id="f861-II4"><circle class="u" cx="1606" cy="559.3" r="8.5"/><text class="id" x="1617" y="565">II-4</text></g>
<g id="f861-II5"><circle class="u" cx="1672.7" cy="559.3" r="8.5"/><text class="id" x="1683.5" y="565">II-5</text></g>
<g id="f861-II6"><rect class="u" x="1730.7" y="551.7" width="16.5" height="15.7"/><text class="id" x="1750" y="565">II-6</text></g>
<g id="f861-III1"><rect class="u" x="1405" y="617.3" width="16.7" height="15.4"/><text class="id" x="1424" y="631">III-1</text></g>
<g id="f861-III2"><circle class="u" cx="1490" cy="625" r="8.5"/><text class="id" x="1501" y="631">III-2</text></g>
<g id="f861-III3"><rect class="a" x="1557.7" y="616" width="17.3" height="16.7"/><text class="id" x="1577.5" y="631">III-3</text><text class="sb" x="1569.3" y="637.5">17y, 7m</text><line class="pb" x1="1546.7" y1="646" x2="1555" y2="637.3"/></g>
<g id="f861-III4"><rect class="a" x="1636" y="616" width="17.3" height="16.7"/><text class="id" x="1656" y="631">III-4</text><text class="sb" x="1645" y="637.5">17y, 7m</text><line class="pb" x1="1625" y1="646" x2="1633.3" y2="637.3"/></g>
<g id="f861-IV1"><rect class="u" x="1443.3" y="682.7" width="16" height="15.6"/><text class="id" x="1462.5" y="696">IV-1</text></g>
</g>

<!-- ===== Panel C ===== -->
<text class="fl" x="1712.4" y="792">PC Pi</text>
<g id="fam841">
<text class="fl" x="1453.4" y="793.5">841</text>
<g class="connectors"><path class="ln" d="M1318.4 844H1390.3M1409.5 844H1600M1620.2 844H1692M1354 844V883.3M1235.6 883.3H1473M1235.6 883.3V912M1314.9 883.3V913.3M1393.4 883.3V912M1473 883.3V912M1564.1 844V911.7M1655.9 844V913.3"/></g>
<g id="f841-I1"><rect class="u" x="1299.5" y="835" width="19" height="18.5"/><text class="id" x="1321.5" y="851.5">I-1</text></g>
<g id="f841-I2"><circle class="u" cx="1399.9" cy="844" r="9.6"/><text class="id" x="1413" y="851.5">I-2</text></g>
<g id="f841-I3"><rect class="a" x="1600" y="835" width="20.2" height="19"/><text class="id" x="1624" y="851.5">I-3</text></g>
<g id="f841-I4"><circle class="u" cx="1701.6" cy="844" r="9.6"/><text class="id" x="1715" y="851.5">I-4</text></g>
<g id="f841-II1"><circle class="u" cx="1235.6" cy="921.7" r="9.6"/><text class="id" x="1249" y="929">II-1</text></g>
<g id="f841-II2"><rect class="u" x="1305" y="913.3" width="19.5" height="18.5"/><text class="id" x="1327.5" y="929">II-2</text></g>
<g id="f841-II3"><circle class="u" cx="1393.4" cy="921.7" r="9.6"/><text class="id" x="1407" y="929">II-3</text></g>
<g id="f841-II4"><circle class="u" cx="1473" cy="921.7" r="9.6"/><text class="id" x="1486.5" y="929">II-4</text></g>
<g id="f841-II5"><rect class="a" x="1554" y="911.7" width="21" height="20.6"/><text class="id" x="1578.5" y="929">II-5</text><text class="sb" x="1564.9" y="937.5">12y, 7m</text><line class="pb" x1="1540.6" y1="947.3" x2="1551.6" y2="937.3"/></g>
<g id="f841-II6"><rect class="u" x="1646.3" y="913.3" width="19.3" height="18.7"/><text class="id" x="1669" y="929">II-6</text></g>
</g>

<g id="fam827">
<text class="fl" x="1485.6" y="1023.5">827</text>
<g class="connectors"><path class="ln" d="M1377.4 1075.7H1451M1471.6 1075.7H1575.6M1414.9 1075.7V1115M1373.7 1115H1455.4M1373.7 1115V1145M1455.4 1115V1145M1529 1075.7V1122.3M1495.6 1122.3H1563.4M1495.6 1122.3V1144.3M1563.4 1122.3V1145"/></g>
<g id="f827-I1"><rect class="u" x="1357.7" y="1066" width="19.7" height="20"/><text class="id" x="1380.5" y="1083">I-1</text></g>
<g id="f827-I2"><circle class="a" cx="1461.3" cy="1075.7" r="10.3"/><text class="id" x="1475" y="1083">I-2</text></g>
<g id="f827-I3"><rect class="u" x="1575.6" y="1066" width="19.6" height="20"/><text class="id" x="1598.5" y="1083">I-3</text></g>
<g id="f827-II1"><rect class="u" x="1364" y="1145" width="19.4" height="20"/><text class="id" x="1386.5" y="1162">II-1</text></g>
<g id="f827-II2"><rect class="u" x="1445.9" y="1145" width="19" height="20"/><text class="id" x="1468" y="1162">II-2</text></g>
<g id="f827-II3"><rect class="a" x="1485.2" y="1144.3" width="20.8" height="21.7"/><text class="id" x="1509" y="1162">II-3</text><text class="sb" x="1495.2" y="1171.5">11y, 2m</text><line class="pb" x1="1471.3" y1="1181.7" x2="1481.6" y2="1170"/></g>
<g id="f827-II4"><rect class="u" x="1553" y="1145" width="20.8" height="20"/><text class="id" x="1577" y="1162">II-4</text></g>
</g>
</svg>
